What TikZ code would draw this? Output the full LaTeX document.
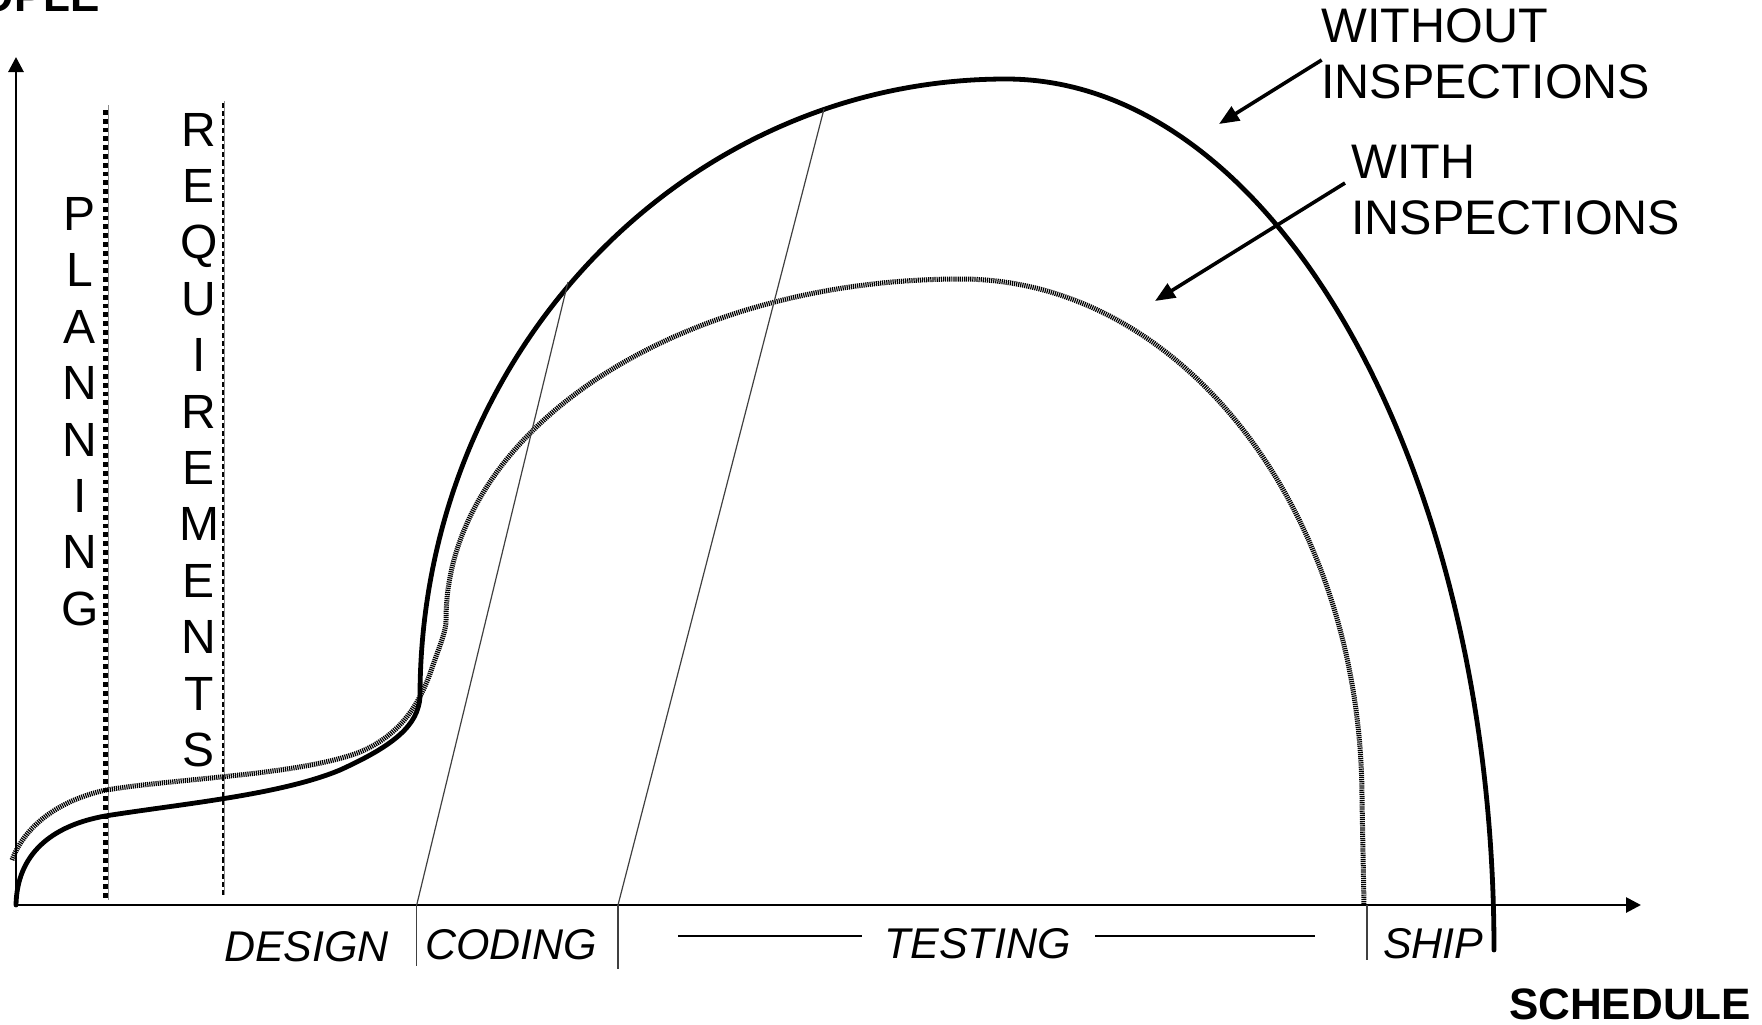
\documentclass[tikz,border=0pt]{standalone}
\usepackage{fontspec}
\setmainfont{Liberation Sans}
\usetikzlibrary{arrows.meta}
\begin{document}
\begin{tikzpicture}[x=0.5pt,y=-0.5pt,
  axis/.style={line width=1.4pt,-{Triangle[length=7.5pt,width=7.5pt]}},
  withoutcurve/.style={line width=2.4pt,line cap=round},
  withcurve/.style={line width=2.5pt,dash pattern=on 0.6pt off 0.45pt},
  phaseline/.style={line width=0.6pt,black!75},
  testline/.style={line width=1.2pt},
  bigdots/.style={line width=2.3pt,dash pattern=on 2.4pt off 2pt},
  smalldots/.style={line width=1.2pt,dash pattern=on 2.6pt off 1.5pt},
  hairline/.style={line width=0.4pt,black!45},
  curvelabel/.style={inner sep=0pt,anchor=north west,align=left,
    font=\fontsize{24.25}{28}\selectfont},
  stacked/.style={inner sep=0pt,align=center,
    font=\fontsize{24}{28.2}\selectfont},
  phase/.style={inner sep=0pt,anchor=base,
    font=\fontsize{21.5}{26}\selectfont\itshape},
  axislabel/.style={inner sep=0pt,font=\fontsize{22}{26}\selectfont\bfseries},
  pointer/.style={line width=1.8pt,-{Triangle[length=10pt,width=8pt]}}]

\useasboundingbox (0,0) rectangle (1762,1024);
\clip (0,0) rectangle (1762,1024);

% axes
\coordinate (O) at (16,905);
\coordinate (ytip) at (16,57);
\coordinate (xtip) at (1641,905);
\draw[axis] (O) -- (ytip);
\draw[axis] (O) -- (xtip);
\node[axislabel,anchor=base east] (people) at (100,11.7) {PEOPLE};
\node[axislabel,anchor=base] (schedule) at (1630,1019) {SCHEDULE};

% planning / requirements boundaries
\coordinate (planTop) at (105.7,110);
\coordinate (planBot) at (105.7,899);
\coordinate (reqTop) at (222.7,103);
\coordinate (reqBot) at (222.7,895);
\draw[hairline] (108.6,105) -- (108.6,900);
\draw[bigdots] (planTop) -- (planBot);
\draw[hairline] (224.8,101) -- (224.8,895);
\draw[smalldots] (reqTop) -- (reqBot);
\node[stacked] (planning) at (80,411.7) {P\\L\\A\\N\\N\\I\\N\\G};
\node[stacked] (requirements) at (199,440) {R\\E\\Q\\U\\I\\R\\E\\M\\E\\N\\T\\S};

% staffing curve without inspections
\draw[withoutcurve] (16,905) .. controls (17,855) and (50,826) .. (105,816)
  .. controls (180,804) and (280,795) .. (340,770)
  .. controls (395,745) and (418,725) .. (420,697)
  arc[start angle=180,end angle=270,x radius=586,y radius=618]
  arc[start angle=270,end angle=360,x radius=488,y radius=871];

% staffing curve with inspections
\draw[withcurve] (12,860) .. controls (25,825) and (60,800) .. (106,790)
  .. controls (180,778) and (300,775) .. (360,752)
  .. controls (400,735) and (420,705) .. (433,665)
  .. controls (442,640) and (446,630) .. (446,620)
  arc[start angle=180,end angle=270,x radius=515,y radius=341]
  arc[start angle=270,end angle=360,x radius=401,y radius=521]
  -- (1364,905);

% phase boundaries
\coordinate (codeStart) at (416.7,905);
\coordinate (codeStartTop) at (568,282);
\coordinate (codeStartLow) at (416.7,966);
\coordinate (testStart) at (618,905);
\coordinate (testStartTop) at (824,109);
\coordinate (testStartLow) at (618,969);
\coordinate (shipStart) at (1367,905);
\coordinate (shipStartLow) at (1367,960);
\draw[phaseline] (codeStart) -- (codeStartTop);
\draw[phaseline] (codeStart) -- (codeStartLow);
\draw[phaseline] (testStart) -- (testStartTop);
\draw[phaseline] (testStart) -- (testStartLow);
\draw[phaseline] (shipStart) -- (shipStartLow);

% phase names
\node[phase] (design) at (306.5,961) {DESIGN};
\node[phase] (coding) at (511,959) {CODING};
\node[phase] (testing) at (977.5,958) {TESTING};
\node[phase] (ship) at (1433.4,958) {SHIP};
\coordinate (tl1) at (678,936);
\coordinate (tl2) at (862,936);
\coordinate (tr1) at (1095,936);
\coordinate (tr2) at (1315,936);
\draw[testline] (tl1) -- (tl2);
\draw[testline] (tr1) -- (tr2);

% curve labels
\node[curvelabel] (without) at (1321,8) {WITHOUT\\INSPECTIONS};
\node[curvelabel] (with) at (1351,145) {WITH\\INSPECTIONS};
\coordinate (woFrom) at (1321.7,60);
\coordinate (woTo) at (1219,124);
\coordinate (wFrom) at (1345,183);
\coordinate (wTo) at (1155,301);
\draw[pointer] (woFrom) -- (woTo);
\draw[pointer] (wFrom) -- (wTo);
\end{tikzpicture}
\end{document}
